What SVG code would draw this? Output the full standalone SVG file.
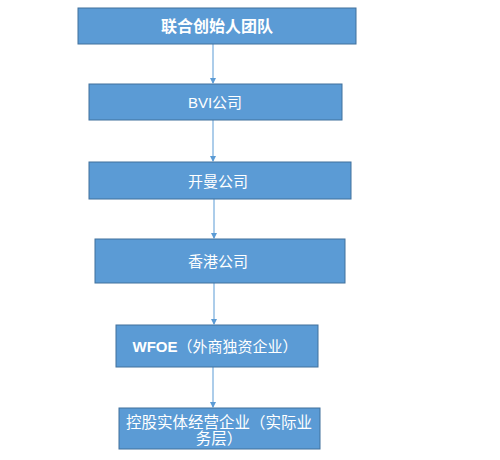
<svg xmlns="http://www.w3.org/2000/svg" width="500" height="460" viewBox="0 0 500 460">
<defs>
<marker id="ah" markerWidth="6" markerHeight="6" refX="5" refY="3" orient="auto" markerUnits="userSpaceOnUse">
<path d="M0,0 L6,3 L0,6 z" fill="#5B9BD5"/>
</marker>
<style>
.box{fill:#5B9BD5;stroke:#41719C;stroke-width:1}
.t{fill:#FFFFFF;font-family:"Liberation Sans","Noto Sans CJK SC",sans-serif;font-size:15px;text-anchor:middle;dominant-baseline:central}
.b{font-weight:bold;font-size:16px}
.l{font-size:15.5px}
.c{stroke:#5B9BD5;stroke-width:1;fill:none;marker-end:url(#ah)}
</style>
</defs>
<rect width="500" height="460" fill="#FFFFFF"/>
<g id="connectors">
<line class="c" x1="213" y1="44" x2="213" y2="83"/>
<line class="c" x1="213" y1="120" x2="213" y2="161"/>
<line class="c" x1="214" y1="199" x2="214" y2="238"/>
<line class="c" x1="214" y1="283" x2="214" y2="324"/>
<line class="c" x1="213" y1="367" x2="213" y2="407"/>
</g>
<g id="n1"><rect class="box" x="78" y="8" width="278" height="36"/><text class="t b" x="217" y="26">联合创始人团队</text></g>
<g id="n2"><rect class="box" x="89" y="84" width="253" height="36"/><text class="t" x="215" y="102">BVI公司</text></g>
<g id="n3"><rect class="box" x="89" y="162" width="262" height="37"/><text class="t" x="218" y="181">开曼公司</text></g>
<g id="n4"><rect class="box" x="95" y="239" width="250" height="44"/><text class="t" x="218" y="261">香港公司</text></g>
<g id="n5"><rect class="box" x="116" y="325" width="202" height="42"/><text class="t" x="215" y="346"><tspan font-weight="bold">WFOE</tspan>（外商独资企业）</text></g>
<g id="n6"><rect class="box" x="119" y="408" width="201" height="41"/><text class="t l" x="219" y="422">控股实体经营企业（实际业</text><text class="t l" x="219" y="438">务层）</text></g>
</svg>
